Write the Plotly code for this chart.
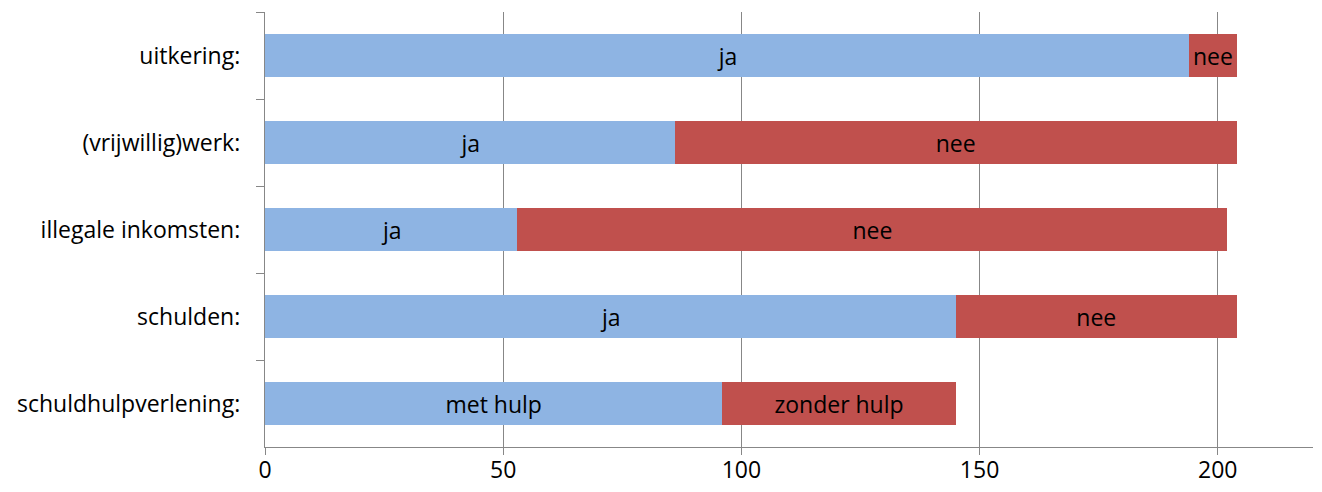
import plotly.graph_objects as go

categories = ["uitkering:", "(vrijwillig)werk:", "illegale inkomsten:", "schulden:", "schuldhulpverlening:"]
first_values = [194, 86, 53, 145, 96]
second_values = [10, 118, 149, 59, 49]
first_labels = ["ja", "ja", "ja", "ja", "met hulp"]
second_labels = ["nee", "nee", "nee", "nee", "zonder hulp"]
x_ticks = [0, 50, 100, 150, 200]

FONT = "Open Sans"
fs = 23

fig = go.Figure()
fig.add_trace(go.Bar(
    y=categories, x=first_values, orientation="h", text=first_labels,
    marker=dict(color="#8EB4E3", line=dict(width=0)),
    textposition="inside", insidetextanchor="middle",
    textfont=dict(color="black", size=fs, family=FONT),
    hoverinfo="skip",
))
fig.add_trace(go.Bar(
    y=categories, x=second_values, orientation="h", text=second_labels,
    marker=dict(color="#C0504D", line=dict(width=0)),
    textposition="inside", insidetextanchor="middle",
    textfont=dict(color="black", size=fs, family=FONT),
    hoverinfo="skip",
))

# page body has an 8px default margin, so the paper is offset by (8, 8)
fig.update_layout(
    barmode="stack",
    bargap=0.5,
    width=1306, height=476,
    margin=dict(l=257, r=1, t=4, b=37),
    paper_bgcolor="white", plot_bgcolor="white",
    showlegend=False,
    font=dict(family=FONT, size=fs, color="black"),
    uniformtext=dict(minsize=fs, mode="show"),
)
fig.update_xaxes(
    range=[0, 220], tickvals=x_ticks, automargin=False,
    showgrid=True, gridcolor="#878787", gridwidth=1.3,
    showline=True, linecolor="#878787", linewidth=1.3,
    ticks="outside", ticklen=7, tickcolor="#878787", tickwidth=1.3,
    zeroline=False,
    ticklabelstandoff=-5,
    tickfont=dict(size=fs, family=FONT),
)
fig.update_yaxes(
    categoryorder="array", categoryarray=categories, autorange="reversed",
    automargin=False,
    showline=True, linecolor="#878787", linewidth=1.3,
    ticks="outside", ticklen=8, tickcolor="#878787", tickwidth=1.3,
    tickson="boundaries",
    showgrid=False,
    ticklabelstandoff=19,
    tickfont=dict(size=fs, family=FONT),
)

fig.write_html("out.html")
